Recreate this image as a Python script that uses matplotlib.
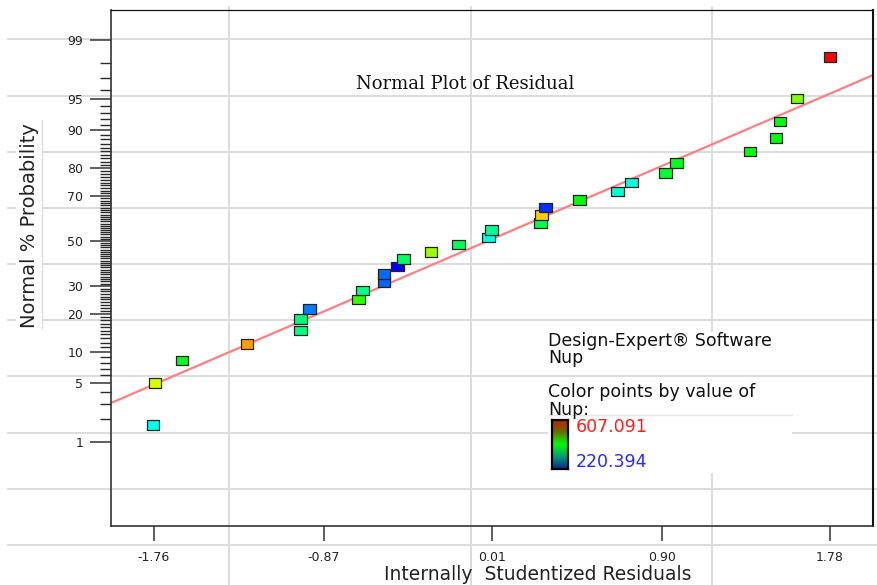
import numpy as np
import matplotlib
matplotlib.use("Agg")
import matplotlib.pyplot as plt
from matplotlib.colors import LinearSegmentedColormap
from matplotlib.lines import Line2D
from matplotlib.patches import Rectangle
from statistics import NormalDist

# residuals (x), normal probability in % (y) and Nup value for each run
residuals = [-1.765, -1.755, -1.613, -1.273, -0.994, -0.994, -0.945, -0.690,
             -0.666, -0.556, -0.556, -0.486, -0.452, -0.309, -0.166, -0.009,
             0.008, 0.263, 0.270, 0.291, 0.467, 0.666, 0.742, 0.920, 0.975,
             1.361, 1.497, 1.518, 1.607, 1.780]
normal_pct = [1.67, 5.0, 8.33, 11.67, 15.0, 18.33, 21.67, 25.0, 28.33, 31.67,
              35.0, 38.33, 41.67, 45.0, 48.33, 51.67, 55.0, 58.33, 61.67, 65.0,
              68.33, 71.67, 75.0, 78.33, 81.67, 85.0, 88.33, 91.67, 95.0, 98.33]
nup = [324.8, 494.9, 402.1, 545.2, 365.4, 368.0, 268.7, 433.1, 363.5, 259.1,
       261.5, 220.394, 375.1, 471.7, 382.8, 324.8, 355.7, 386.7, 529.8, 239.7,
       413.7, 336.4, 328.7, 394.4, 402.1, 413.7, 413.7, 413.7, 462.1, 607.091]
nup_min, nup_max = 220.394, 607.091

# fitted reference line: z = intercept + slope * residual
line_intercept = 0.013
line_slope = 0.950

x_ticks = [-1.76, -0.87, 0.01, 0.90, 1.78]
x_tick_labels = ["-1.76", "-0.87", "0.01", "0.90", "1.78"]
y_major = [1, 5, 10, 20, 30, 50, 70, 80, 90, 95, 99]
y_minor = [2, 3, 4] + [p for p in range(6, 95) if p not in y_major] + [96, 97, 98]

W, H = 878, 585


def fx(px):
    return px / W


def fy(py):
    return 1 - py / H


def probit(p):
    return np.array([NormalDist().inv_cdf(v / 100.0) for v in np.atleast_1d(p)])


fig = plt.figure(figsize=(W / 100, H / 100), dpi=100)
fig.patch.set_facecolor("white")

# light worksheet cell grid behind the chart
sheet_rows = [39, 96, 152, 208, 264, 320, 376, 433, 489, 545]
sheet_cols = [229, 471, 712]
for r in sheet_rows:
    if r == 376:
        continue
    fig.add_artist(Line2D([fx(8), 1], [fy(r), fy(r)], color="#dcdcdc", lw=1.4, zorder=0.2))
for c in sheet_cols:
    fig.add_artist(Line2D([fx(c), fx(c)], [fy(7), 0], color="#dcdcdc", lw=1.4, zorder=0.2))

# white panels behind the legend block and the y label
fig.add_artist(Rectangle((fx(548), fy(473)), fx(792) - fx(548), fy(332) - fy(473),
                         facecolor="white", edgecolor="none", zorder=0.4))
fig.add_artist(Line2D([fx(8), 1], [fy(376), fy(376)], color="#dcdcdc", lw=1.4, zorder=0.5))
fig.add_artist(Line2D([fx(548), fx(792)], [fy(415), fy(415)], color="#e6e6e6", lw=1.0, zorder=0.5))
fig.add_artist(Rectangle((fx(16), fy(328)), fx(42) - fx(16), fy(120) - fy(328),
                         facecolor="white", edgecolor="none", zorder=0.4))
fig.add_artist(Line2D([fx(42), fx(42)], [fy(120), fy(328)], color="#dcdcdc", lw=1.0, zorder=0.5))

ax = fig.add_axes([fx(111), fy(526), fx(873) - fx(111), fy(10) - fy(526)])
ax.set_facecolor("none")
ax.set_zorder(1)

ax.set_xlim(-1.985, 2.005)
ax.set_ylim(-3.295, 2.67)

# reference line
xl = np.array(ax.get_xlim())
ax.plot(xl, line_intercept + line_slope * xl, color="#ff8080", lw=1.6, zorder=2)

# points coloured by Nup
point_cmap = LinearSegmentedColormap.from_list(
    "nup", ["#0000ff", "#00ffff", "#00ff00", "#ffff00", "#ff0000"])
rect = [(-1, -0.75), (1, -0.75), (1, 0.75), (-1, 0.75), (-1, -0.75)]
ax.scatter(residuals, probit(normal_pct), c=nup, cmap=point_cmap,
           vmin=nup_min, vmax=nup_max, marker=rect, s=85,
           edgecolors="#222222", linewidths=0.9, zorder=3)

ax.set_xticks(x_ticks)
ax.set_xticklabels(x_tick_labels)
ax.set_yticks(probit(y_major))
ax.set_yticklabels([str(v) for v in y_major])
ax.set_yticks(probit(y_minor), minor=True)

ax.tick_params(axis="x", direction="out", length=11, width=1.1, color="#333333",
               labelsize=9, pad=7, labelcolor="#222222")
ax.tick_params(axis="y", which="major", direction="out", length=15, width=1.1,
               color="#333333", labelsize=9, pad=5, labelcolor="#222222")
ax.tick_params(axis="y", which="minor", direction="out", length=8, width=1.0,
               color="#2a2a2a")

for side in ["left", "bottom"]:
    ax.spines[side].set_color("#333333")
    ax.spines[side].set_linewidth(1.2)
ax.spines["top"].set_color("#111111")
ax.spines["top"].set_linewidth(0.9)
ax.spines["right"].set_color("#111111")
ax.spines["right"].set_linewidth(1.5)

# titles and axis labels
fig.text(fx(465), fy(84), "Normal Plot of Residual", family="DejaVu Serif",
         fontsize=13, ha="center", va="center", color="#111111", zorder=3)
fig.text(fx(538), fy(575), "Internally  Studentized Residuals", fontsize=13.5,
         ha="center", va="center", color="#222222", zorder=3)
fig.text(fx(30), fy(226), "Normal % Probability", fontsize=14, rotation=90,
         ha="center", va="center", color="#222222", zorder=3)

# colour key block
fig.text(fx(548), fy(341), "Design-Expert® Software", fontsize=12.5,
         ha="left", va="center", color="#111111", zorder=3)
fig.text(fx(548), fy(358), "Nup", fontsize=12.5, ha="left", va="center",
         color="#111111", zorder=3)
fig.text(fx(548), fy(392), "Color points by value of", fontsize=12.5,
         ha="left", va="center", color="#111111", zorder=3)
fig.text(fx(548), fy(410), "Nup:", fontsize=12.5, ha="left", va="center",
         color="#111111", zorder=3)
fig.text(fx(576), fy(427), f"{nup_max:.3f}", fontsize=12.5, ha="left",
         va="center", color="#ff2020", zorder=3)
fig.text(fx(576), fy(462), f"{nup_min:.3f}", fontsize=12.5, ha="left",
         va="center", color="#2a2aff", zorder=3)

key_cmap = LinearSegmentedColormap.from_list(
    "key", ["#0c2a8e", "#00a070", "#00ff00", "#6a6a00", "#c02000"])
kax = fig.add_axes([fx(552), fy(469), fx(568) - fx(552), fy(420) - fy(469)])
kax.set_zorder(3)
kax.imshow(np.linspace(1, 0, 64).reshape(-1, 1), aspect="auto", cmap=key_cmap)
kax.set_xticks([])
kax.set_yticks([])
for s in kax.spines.values():
    s.set_linewidth(1.6)
    s.set_color("black")

fig.savefig("out.png", dpi=100)
